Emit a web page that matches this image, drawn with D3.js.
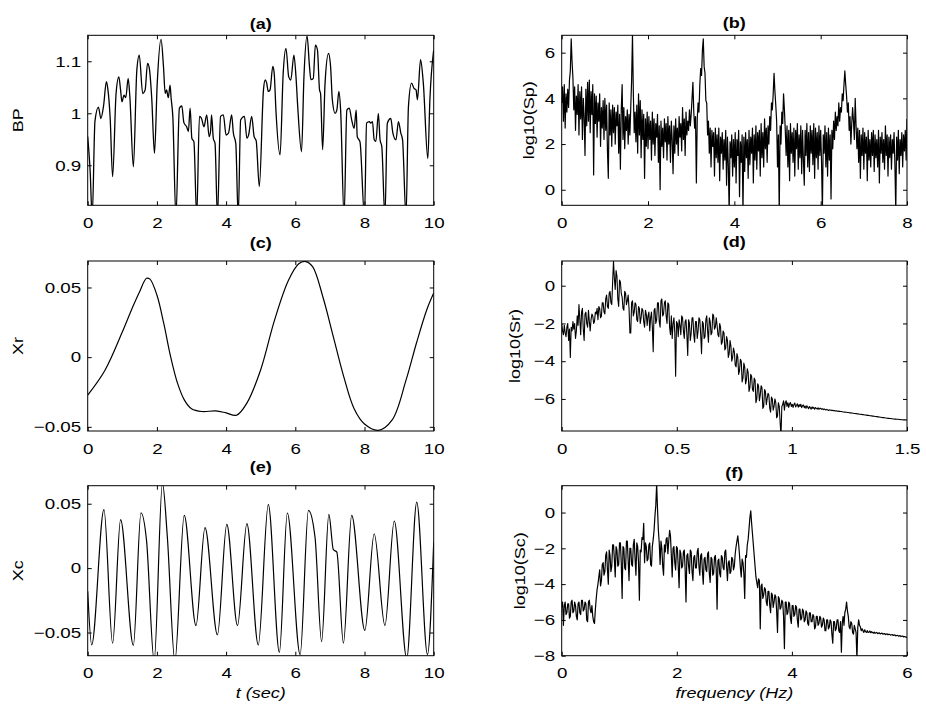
<!DOCTYPE html>
<html>
<head>
<meta charset="utf-8">
<script src="https://cdn.jsdelivr.net/npm/d3@7"></script>
<style>
    body { margin: 0; background: #fff; }
    svg { display: block; }
</style>
</head>
<body>
<div id="chart"></div>
<script>
// ---- values ----

// (a) blood pressure trace
const bpTime = [0, 0.07, 0.13, 0.21, 0.31, 0.38, 0.46, 0.54, 0.58, 0.65, 0.72, 0.82, 0.9, 0.95, 0.99, 1.05, 1.1, 1.17, 1.22, 1.32,
    1.42, 1.49, 1.59, 1.66, 1.73, 1.78, 1.85, 1.93, 2.01, 2.12, 2.19, 2.24, 2.28, 2.33, 2.38, 2.41, 2.46, 2.55, 2.65, 2.72,
    2.78, 2.86, 2.91, 2.96, 3.01, 3.07, 3.15, 3.23, 3.29, 3.36, 3.44, 3.51, 3.55, 3.58, 3.63, 3.68, 3.75, 3.84, 3.92, 4.0,
    4.07, 4.16, 4.21, 4.28, 4.35, 4.42, 4.53, 4.6, 4.65, 4.74, 4.81, 4.87, 4.96, 5.08, 5.13, 5.17, 5.22, 5.27, 5.35, 5.39,
    5.44, 5.56, 5.65, 5.73, 5.81, 5.87, 5.96, 6.02, 6.07, 6.18, 6.25, 6.34, 6.41, 6.45, 6.52, 6.58, 6.64, 6.7, 6.73, 6.79,
    6.86, 6.96, 7.02, 7.07, 7.15, 7.2, 7.26, 7.31, 7.41, 7.49, 7.56, 7.63, 7.7, 7.76, 7.79, 7.87, 8.0, 8.06, 8.14, 8.18,
    8.23, 8.28, 8.33, 8.4, 8.45, 8.5, 8.59, 8.66, 8.76, 8.82, 8.91, 8.98, 9.05, 9.1, 9.2, 9.27, 9.36, 9.43, 9.49, 9.53,
    9.62, 9.7, 9.83, 9.89, 10];
const bpValue = [0.955, 0.89, 0.8, 0.985, 1.012, 0.99, 1.015, 1.061, 1.048, 0.99, 0.878, 1.038, 1.07, 1.045, 1.022, 1.035, 1.03, 1.067, 1.03, 0.897,
    1.083, 1.112, 1.038, 1.045, 1.096, 1.087, 1.03, 0.923, 1.058, 1.142, 1.09, 1.038, 1.045, 1.03, 1.054, 1.03, 0.994, 0.8, 1.01, 1.014,
    0.982, 0.974, 0.965, 1.01, 0.952, 0.945, 0.8, 0.994, 0.99, 0.974, 0.997, 0.955, 0.965, 0.997, 0.952, 0.942, 0.8, 0.994, 0.997, 0.958,
    0.962, 0.997, 0.962, 0.942, 0.8, 0.987, 0.994, 0.952, 0.958, 0.994, 0.955, 0.947, 0.859, 1.045, 1.064, 1.059, 1.042, 1.045, 1.09, 1.077,
    1.006, 0.92, 1.077, 1.125, 1.07, 1.064, 1.112, 1.07, 1.013, 0.926, 1.07, 1.149, 1.09, 1.065, 1.067, 1.131, 1.122, 1.045, 1.038, 0.93,
    1.058, 1.115, 1.09, 1.026, 1.0, 1.006, 1.042, 1.006, 0.8, 1.006, 1.01, 0.987, 0.971, 1.006, 0.955, 0.945, 0.8, 0.981, 0.984, 0.981,
    0.984, 0.949, 0.946, 1.0, 0.949, 0.936, 0.8, 0.981, 0.99, 0.962, 0.949, 0.984, 0.962, 0.949, 0.8, 1.013, 1.058, 1.048, 1.045, 1.026,
    1.103, 1.058, 0.913, 1.026, 1.122];

// (c) respiratory component
const xrTime = [0, 0.5, 1.0, 1.3, 1.5, 1.7, 1.8, 2.0, 2.2, 2.4, 2.6, 2.8, 3.0, 3.3, 3.7, 4.0, 4.3, 4.6, 5.0, 5.4,
    5.8, 6.1, 6.3, 6.5, 6.8, 7.1, 7.4, 7.7, 8.0, 8.4, 8.8, 9.2, 9.5, 9.8, 10];
const xrValue = [-0.0273, -0.0094, 0.018, 0.036, 0.047, 0.0566, 0.056, 0.0446, 0.024, 0.0, -0.019, -0.031, -0.037, -0.039, -0.0386, -0.040, -0.0417, -0.033, -0.009, 0.0266,
    0.055, 0.067, 0.0686, 0.065, 0.043, 0.0146, -0.014, -0.037, -0.048, -0.0525, -0.045, -0.0165, 0.01, 0.034, 0.046];

// (e) cardiac component
const xcTime = [0, 0.115, 0.47, 0.72, 0.95, 1.32, 1.54, 1.7, 1.92, 2.16, 2.3, 2.52, 2.79, 3.13, 3.39, 3.75, 4.02, 4.33, 4.6, 4.93,
    5.22, 5.54, 5.77, 6.14, 6.38, 6.57, 6.76, 6.97, 7.1, 7.2, 7.39, 7.63, 8.01, 8.28, 8.59, 8.86, 9.22, 9.51, 9.82, 10];
const xcValue = [-0.018, -0.0596, 0.0454, -0.0583, 0.0376, -0.060, 0.043, 0.0215, -0.072, 0.066, 0.025, -0.072, 0.041, -0.0446, 0.0314, -0.0518, 0.034, -0.0446, 0.0345, -0.0596,
    0.0493, -0.0653, 0.0428, -0.0671, 0.0449, 0.024, -0.057, 0.0418, 0.0143, 0.0125, -0.0583, 0.041, -0.0484, 0.0267, -0.0446, 0.0366, -0.070, 0.0513, -0.0671, 0.02];

// (b) log10 spectrum of BP, 0..8 Hz, evenly spaced bins (20 per row = 0.4 Hz)
const spFreqMax = 8;
const spLog = [
    3.8, 4.5, 3.0, 4.6, 2.7, 4.2, 3.4, 4.4, 3.6, 4.8, 5.2, 6.6, 5.6, 4.9, 3.5, 4.5, 2.6, 4.1, 3.3, 4.6,
    2.4, 4.3, 3.1, 4.5, 2.2, 4.0, 3.2, 1.5, 4.4, 2.8, 4.7, 3.0, 4.8, 2.5, 4.3, 3.3, 4.6, 0.65, 4.2, 2.9,
    4.1, 2.3, 3.8, 3.0, 4.2, 1.9, 3.6, 2.7, 3.9, 2.2, 4.0, 2.6, 3.7, 1.7, 0.5, 3.8, 2.4, 3.5, 1.9, 3.7,
    2.5, 3.6, 2.0, 3.4, 2.8, 3.7, 1.6, 3.3, 0.9, 3.5, 4.6, 2.2, 3.6, 1.8, 3.2, 2.6, 3.5, 2.0, 3.3, 2.4,
    3.6, 4.8, 6.8, 4.2, 2.5, 3.4, 2.1, 3.7, 1.6, 4.2, 2.4, 3.9, 1.4, 3.5, 2.2, 3.3, 0.5, 3.1, 1.9, 3.4,
    1.8, 3.2, 2.2, 3.0, 1.3, 3.4, 2.0, 3.1, 1.5, 2.9, 2.3, 3.3, 1.2, 2.8, 0.0, 3.0, 1.9, 2.7, 1.4, 3.1,
    2.1, 2.9, 1.3, 3.2, 2.0, 2.8, 1.2, 3.0, 2.2, 0.7, 2.8, 1.6, 3.1, 2.0, 2.7, 1.5, 3.2, 2.3, 2.9, 1.7,
    3.6, 2.2, 3.1, 1.5, 3.4, 2.4, 3.0, 2.6, 3.5, 2.8, 3.3, 4.0, 4.7, 3.4, 2.7, 3.2, 0.3, 3.1, 3.8, 3.4,
    4.6, 5.3, 5.0, 6.1, 6.6, 5.4, 5.1, 3.9, 3.8, 2.4, 3.0, 1.6, 2.7, 1.0, 2.6, 1.9, 2.5, 0.6, 2.7, 1.4,
    2.4, 1.2, 2.7, 0.4, 2.3, 1.6, 2.5, 0.9, 2.2, 1.3, 2.6, 0.2, 2.3, 1.1, -1.0, 2.1, 1.4, 2.4, 0.6, 2.2,
    1.0, 2.5, 0.3, 2.2, 1.5, 2.6, -0.3, 2.1, 1.2, 2.4, -1.0, 2.3, 0.8, 2.5, 1.4, 2.2, 0.5, 2.6, 1.1, 2.3,
    1.6, 2.7, 0.3, 2.4, 1.3, 2.8, 0.9, 2.5, 1.7, 2.6, 0.6, 2.9, 1.4, 2.5, 1.0, 3.1, 1.8, 2.7, 1.2, 2.8,
    2.0, 3.2, 2.6, 3.8, 3.5, 4.2, 5.1, 4.3, 3.7, 3.0, 1.0, 2.4, -1.0, 2.8, 2.0, 3.4, 2.9, 4.2, 3.5, 2.6,
    1.5, 2.8, 1.0, 2.6, 0.4, 2.9, 1.6, 2.5, 1.2, 2.7, 0.6, 2.6, 1.8, 2.9, 0.9, 2.4, 1.4, 2.8, 0.7, 2.6,
    1.3, 0.2, 2.6, 1.5, 2.9, 1.0, 2.5, 0.8, 2.8, 1.6, 2.6, 1.1, 2.9, 0.5, 2.7, 1.4, 2.5, 0.9, 2.8, 1.5,
    2.6, 1.2, -1.0, 2.4, 1.6, 2.8, 1.0, 2.5, 0.6, 2.7, 1.3, 2.4, -0.4, 2.6, 1.8, 3.0, 2.2, 3.4, 2.6, 3.2,
    2.8, 3.8, 3.0, 3.6, 3.4, 4.2, 3.9, 4.6, 5.2, 4.6, 4.1, 3.4, 3.8, 2.6, 3.2, 2.0, 2.9, 3.6, 3.0, 2.2,
    4.0, 2.8, 1.8, 2.7, 1.2, 2.6, 0.5, 2.4, 1.5, 2.7, 0.9, 2.5, 1.6, 2.3, 0.4, 2.6, 1.3, 2.2, 1.0, 2.5,
    1.5, 2.6, 0.8, 2.4, 1.4, 2.2, 1.0, 2.6, 0.3, 2.3, 1.6, 2.5, 1.2, 2.2, 0.9, 2.8, 1.5, 2.4, 0.6, 2.3,
    1.4, 2.4, 0.9, 2.2, 1.6, 2.5, 1.1, -1.0, 2.3, 1.3, 2.6, 0.7, 2.2, 1.5, 2.5, 1.0, 2.4, 1.7, 2.6, 1.3,
    3.1];

// (d) log10 spectrum of Xr, 0..1.5 Hz (20 per row = 0.075 Hz)
const srFreqMax = 1.5;
const srLog = [
    -2.0, -2.4, -2.6, -2.1, -2.5, -2.7, -2.2, -2.0, -2.9, -2.3, -3.8, -2.2, -2.4, -1.9, -2.3, -2.0, -2.8, -2.4, -1.6, -2.1,
    -1.0, -1.8, -2.6, -1.4, -1.2, -2.3, -2.9, -1.5, -1.4, -2.0, -2.2, -1.3, -1.9, -2.4, -1.8, -1.5, -1.6, -2.0, -1.9, -1.4,
    -1.5, -1.2, -1.8, -1.1, -1.2, -1.7, -1.6, -0.9, -0.9, -1.4, -1.5, -0.7, -0.5, -1.1, -1.2, -0.4, -0.3, -0.9, -1.0, 0.2,
    1.3, 0.4, -0.2, 0.8, 0.5, -0.7, -1.1, 0.3, 0.2, -0.4, -0.6, -1.2, -1.3, -0.3, -0.4, -1.0, -0.8, -0.5, -1.2, -2.5,
    -2.5, -0.9, -0.8, -1.6, -1.4, -0.9, -1.0, -1.8, -1.9, -1.1, -1.2, -2.0, -1.7, -1.2, -1.3, -1.9, -2.2, -1.3, -1.5, -2.1,
    -1.6, -1.4, -2.4, -1.7, -1.4, -2.2, -3.5, -1.3, -1.2, -2.0, -1.8, -0.9, -0.9, -1.9, -2.2, -0.8, -0.7, -1.6, -1.5, -0.9,
    -0.8, -1.6, -2.0, -0.9, -1.0, -2.2, -2.6, -1.6, -2.8, -2.0, -1.7, -2.5, -4.8, -1.9, -2.0, -2.7, -1.8, -2.1, -2.6, -1.6,
    -1.7, -2.4, -2.8, -1.9, -1.8, -2.6, -3.7, -1.8, -2.0, -2.9, -2.5, -1.7, -1.7, -2.6, -3.0, -1.9, -1.9, -2.8, -2.4, -1.7,
    -1.8, -2.6, -3.6, -1.9, -2.0, -2.8, -2.7, -1.8, -1.6, -2.4, -3.0, -1.7, -1.9, -2.6, -2.5, -1.5, -1.6, -2.3, -2.2, -1.7,
    -2.1, -2.6, -2.7, -2.0, -2.2, -3.1, -3.0, -2.4, -2.5, -3.4, -3.3, -2.7, -2.9, -3.8, -3.6, -2.9, -3.2, -4.0, -3.8, -3.3,
    -3.5, -4.2, -4.3, -3.6, -3.8, -4.7, -4.5, -3.9, -4.0, -5.1, -4.9, -4.1, -4.3, -5.2, -5.0, -4.4, -4.6, -5.6, -5.4, -4.7,
    -4.8, -5.5, -5.6, -4.9, -5.0, -6.2, -6.0, -5.2, -5.3, -6.1, -5.8, -5.3, -5.4, -6.5, -6.4, -5.5, -5.6, -6.3, -6.0, -5.7,
    -5.8, -6.5, -6.7, -5.9, -6.0, -6.6, -6.4, -6.0, -6.2, -7.0, -6.9, -6.2, -6.4, -7.2, -8.0, -6.4, -6.3, -6.1, -6.6, -6.2,
    -6.1, -6.4, -6.2, -6.45, -6.25, -6.2, -6.4, -6.28, -6.45, -6.3, -6.22, -6.42, -6.35, -6.26, -6.44, -6.3, -6.4, -6.28, -6.46, -6.36,
    -6.32, -6.46, -6.38, -6.5, -6.36, -6.44, -6.52, -6.4, -6.46, -6.54, -6.42, -6.5, -6.45, -6.55, -6.46, -6.5, -6.54, -6.47, -6.55, -6.5,
    -6.5, -6.55, -6.52, -6.57, -6.53, -6.56, -6.59, -6.55, -6.58, -6.61, -6.58, -6.6, -6.59, -6.62, -6.6, -6.63, -6.62, -6.64, -6.63, -6.65,
    -6.64, -6.66, -6.65, -6.67, -6.67, -6.68, -6.69, -6.69, -6.7, -6.71, -6.71, -6.72, -6.72, -6.73, -6.74, -6.74, -6.75, -6.76, -6.76, -6.77,
    -6.77, -6.78, -6.79, -6.79, -6.8, -6.81, -6.81, -6.82, -6.83, -6.83, -6.84, -6.85, -6.85, -6.86, -6.87, -6.87, -6.88, -6.89, -6.89, -6.9,
    -6.91, -6.91, -6.92, -6.93, -6.93, -6.94, -6.95, -6.95, -6.96, -6.97, -6.97, -6.98, -6.99, -6.99, -7.0, -7.01, -7.01, -7.02, -7.03, -7.03,
    -7.04, -7.04, -7.05, -7.05, -7.06, -7.06, -7.07, -7.07, -7.08, -7.08, -7.08, -7.09, -7.09, -7.1, -7.1, -7.1, -7.11, -7.11, -7.11, -7.12,
    -7.12];

// (f) log10 spectrum of Xc, 0..6 Hz (20 per row = 0.3 Hz)
const scFreqMax = 6;
const scLog = [
    -5.3, -5.0, -6.3, -5.2, -5.0, -5.7, -5.6, -5.1, -5.1, -5.9, -5.8, -5.0, -4.9, -5.6, -5.5, -5.0, -5.2, -5.8, -6.0, -5.1,
    -5.0, -5.6, -5.7, -4.9, -4.9, -5.5, -5.4, -5.0, -5.1, -6.0, -6.1, -5.0, -4.9, -5.4, -5.6, -5.2, -5.8, -6.1, -6.2, -5.4,
    -4.8, -4.3, -4.0, -3.6, -3.2, -4.1, -3.8, -2.9, -2.8, -3.5, -3.3, -2.4, -2.2, -3.2, -4.0, -2.1, -2.4, -3.3, -3.0, -1.8,
    -1.8, -2.6, -3.6, -1.9, -2.1, -3.0, -2.9, -1.7, -1.7, -2.8, -4.8, -1.9, -2.0, -3.1, -3.2, -1.6, -1.6, -2.7, -3.8, -2.0,
    -2.0, -2.9, -3.0, -1.8, -1.5, -2.6, -3.5, -1.7, -1.9, -2.8, -4.9, -2.1, -2.2, -1.4, -1.5, -0.6, -2.8, -1.7, -1.9, -2.7,
    -2.6, -1.8, -1.7, -2.9, -3.0, -1.9, -1.5, -1.0, -0.2, 0.4, 1.6, 0.2, -1.0, -1.7, -2.9, -1.6, -2.0, -3.0, -3.5, -1.8,
    -2.2, -1.5, -1.4, -2.3, -1.6, -1.0, -1.3, -2.4, -3.6, -2.0, -1.9, -2.8, -3.2, -1.9, -2.0, -3.0, -4.2, -2.1, -2.3, -3.1,
    -3.0, -2.2, -2.1, -3.2, -5.0, -2.4, -2.3, -3.0, -3.4, -2.1, -2.2, -3.3, -3.8, -2.5, -2.4, -3.1, -3.1, -2.2, -2.0, -3.0,
    -3.5, -2.4, -2.3, -3.3, -4.0, -2.6, -2.5, -3.2, -3.3, -2.3, -2.2, -3.4, -3.9, -2.5, -2.6, -3.5, -3.4, -2.5, -2.4, -3.2,
    -5.4, -2.7, -2.6, -3.4, -3.6, -2.4, -2.5, -3.1, -3.2, -2.2, -2.1, -3.0, -3.8, -2.8, -2.7, -3.4, -3.3, -2.5, -2.6, -3.2,
    -3.0, -2.3, -1.9, -1.6, -1.3, -1.8, -2.4, -3.1, -3.6, -2.6, -2.8, -3.4, -4.8, -2.4, -2.5, -1.8, -1.5, -0.9, -0.3, 0.1,
    -0.6, -1.2, -1.8, -2.4, -3.0, -3.6, -3.9, -4.2, -3.7, -3.8, -6.5, -4.1, -4.0, -4.8, -4.6, -4.2, -4.3, -5.0, -5.2, -4.4,
    -4.4, -5.2, -5.6, -4.5, -4.6, -5.3, -5.0, -4.6, -4.7, -5.5, -6.7, -4.7, -4.8, -5.4, -5.3, -4.9, -5.0, -5.8, -7.6, -5.0,
    -5.0, -5.7, -5.6, -5.0, -5.1, -5.9, -6.2, -5.2, -5.2, -5.8, -5.7, -5.2, -5.3, -6.0, -6.4, -5.4, -5.4, -6.0, -5.9, -5.4,
    -5.5, -6.1, -6.0, -5.5, -5.6, -6.2, -6.3, -5.6, -5.6, -6.1, -6.1, -5.7, -5.8, -6.5, -6.4, -5.8, -5.8, -6.3, -6.2, -5.8,
    -5.9, -6.4, -6.3, -5.9, -6.0, -6.6, -6.6, -6.0, -6.0, -6.5, -6.4, -6.0, -6.1, -6.8, -7.3, -6.1, -6.1, -6.6, -6.5, -6.0,
    -6.0, -6.6, -6.7, -6.1, -7.8, -6.2, -5.8, -6.3, -5.6, -5.4, -5.0, -5.5, -5.8, -6.4, -6.5, -6.1, -6.2, -6.7, -6.8, -6.3,
    -6.5, -6.7, -8.2, -6.4, -6.0, -6.3, -6.4, -6.6, -6.5, -6.6, -6.7, -6.55, -6.65, -6.7, -6.6, -6.7, -6.68, -6.62, -6.72, -6.66,
    -6.7, -6.74, -6.68, -6.75, -6.72, -6.7, -6.77, -6.74, -6.72, -6.78, -6.76, -6.74, -6.8, -6.77, -6.76, -6.82, -6.79, -6.78, -6.83, -6.8,
    -6.81, -6.85, -6.83, -6.82, -6.87, -6.85, -6.84, -6.89, -6.87, -6.86, -6.91, -6.89, -6.88, -6.93, -6.91, -6.9, -6.95, -6.93, -6.94, -6.97,
    -6.98];

// tick values
const timeTicks = [0, 2, 4, 6, 8, 10];
const bpTicks = [0.9, 1, 1.1];
const xTicksSmall = [-0.05, 0, 0.05];
const spFreqTicks = [0, 2, 4, 6, 8];
const spTicks = [0, 2, 4, 6];
const srFreqTicks = [0, 0.5, 1, 1.5];
const srTicks = [-6, -4, -2, 0];
const scFreqTicks = [0, 2, 4, 6];
const scTicks = [-8, -6, -4, -2, 0];

// ---- layout ----
const width = 926;
const height = 708;
const colX = [87.7, 561.7];
const colW = [346, 345.3];
const rowY = [35.3, 261, 485.7];
const rowH = 170;
const tickLen = 4;
const fontFamily = "'Liberation Sans', Arial, Helvetica, sans-serif";
const fontSize = 15;
const stretch = 1.25;   // the original font is set noticeably wide

const binFreqs = (vals, fMax) => vals.map((_, i) => i * fMax / (vals.length - 1));
const fmt = v => String(v).replace("-", "\u2212");

const panels = [
    { id: "a", col: 0, row: 0, title: "(a)", titleGap: 6.8, ylabel: "BP", ylabelGap: 64.7,
      xs: bpTime, ys: bpValue, xDomain: [0, 10], yDomain: [0.823, 1.15],
      xTicks: timeTicks, yTicks: bpTicks, curve: d3.curveMonotoneX, lw: 1.3 },
    { id: "b", col: 1, row: 0, title: "(b)", titleGap: 7.7, ylabel: "log10(Sp)", ylabelGap: 27.9,
      xs: binFreqs(spLog, spFreqMax), ys: spLog, xDomain: [0, 8], yDomain: [-0.68, 6.76],
      xTicks: spFreqTicks, yTicks: spTicks, curve: d3.curveLinear, lw: 1.2 },
    { id: "c", col: 0, row: 1, title: "(c)", titleGap: 13, ylabel: "Xr", ylabelGap: 64.4,
      xs: xrTime, ys: xrValue, xDomain: [0, 10], yDomain: [-0.053, 0.069],
      xTicks: timeTicks, yTicks: xTicksSmall, curve: d3.curveCatmullRom.alpha(0.5), lw: 1.2 },
    { id: "d", col: 1, row: 1, title: "(d)", titleGap: 14, ylabel: "log10(Sr)", ylabelGap: 41.8,
      xs: binFreqs(srLog, srFreqMax), ys: srLog, xDomain: [0, 1.5], yDomain: [-7.7, 1.31],
      xTicks: srFreqTicks, yTicks: srTicks, curve: d3.curveLinear, lw: 1.1 },
    { id: "e", col: 0, row: 2, title: "(e)", titleGap: 13.7, ylabel: "Xc", ylabelGap: 64.4, xlabel: "t (sec)",
      xs: xcTime, ys: xcValue, xDomain: [0, 10], yDomain: [-0.068, 0.064],
      xTicks: timeTicks, yTicks: xTicksSmall, curve: d3.curveMonotoneX, lw: 1.2 },
    { id: "f", col: 1, row: 2, title: "(f)", titleGap: 8, ylabel: "log10(Sc)", ylabelGap: 36.9, xlabel: "frequency (Hz)",
      xs: binFreqs(scLog, scFreqMax), ys: scLog, xDomain: [0, 6], yDomain: [-8, 1.5],
      xTicks: scFreqTicks, yTicks: scTicks, curve: d3.curveLinear, lw: 1.2 }
];

const svg = d3.select("#chart")
    .append("svg")
    .attr("width", width)
    .attr("height", height)
    .attr("font-family", fontFamily);

svg.append("rect")
    .attr("width", width)
    .attr("height", height)
    .attr("fill", "#fff");

const defs = svg.append("defs");

function styleAxis(g) {
    g.attr("font-family", fontFamily)
        .attr("font-size", fontSize)
        .attr("color", "#000");
    g.select(".domain").remove();
    g.selectAll(".tick line").attr("stroke-width", 1);
}

function drawPanel(p) {
    const left = colX[p.col];
    const top = rowY[p.row];
    const w = colW[p.col];
    const h = rowH;

    const x = d3.scaleLinear().domain(p.xDomain).range([0, w]);
    const y = d3.scaleLinear().domain(p.yDomain).range([h, 0]);

    const g = svg.append("g").attr("transform", `translate(${left},${top})`);

    defs.append("clipPath")
        .attr("id", "clip-" + p.id)
        .append("rect")
        .attr("width", w)
        .attr("height", h);

    // data line
    const line = d3.line()
        .x(d => x(d[0]))
        .y(d => y(d[1]))
        .curve(p.curve);

    g.append("path")
        .datum(d3.zip(p.xs, p.ys))
        .attr("clip-path", `url(#clip-${p.id})`)
        .attr("fill", "none")
        .attr("stroke", "#000")
        .attr("stroke-width", p.lw)
        .attr("stroke-linejoin", "round")
        .attr("d", line);

    // bottom axis with labels, ticks pointing inward
    g.append("g")
        .attr("transform", `translate(0,${h})`)
        .call(d3.axisBottom(x).tickValues(p.xTicks).tickFormat(fmt)
            .tickSizeInner(-tickLen).tickSizeOuter(0).tickPadding(12))
        .call(styleAxis)
        .call(a => a.selectAll("text").attr("transform", `scale(${stretch},1)`));

    // left axis with labels
    g.append("g")
        .call(d3.axisLeft(y).tickValues(p.yTicks).tickFormat(fmt)
            .tickSizeInner(-tickLen).tickSizeOuter(0).tickPadding(6.5 / stretch))
        .call(styleAxis)
        .call(a => a.selectAll("text").attr("transform", `scale(${stretch},1)`));

    // mirrored ticks on top and right
    g.append("g")
        .call(d3.axisTop(x).tickValues(p.xTicks).tickFormat("")
            .tickSizeInner(-tickLen).tickSizeOuter(0))
        .call(styleAxis);

    g.append("g")
        .attr("transform", `translate(${w},0)`)
        .call(d3.axisRight(y).tickValues(p.yTicks).tickFormat("")
            .tickSizeInner(-tickLen).tickSizeOuter(0))
        .call(styleAxis);

    // box
    g.append("rect")
        .attr("width", w)
        .attr("height", h)
        .attr("fill", "none")
        .attr("stroke", "#000")
        .attr("stroke-width", 1);

    // title
    g.append("text")
        .attr("transform", `translate(${w / 2},${-p.titleGap}) scale(1.2,1)`)
        .attr("text-anchor", "middle")
        .attr("font-size", fontSize)
        .attr("font-weight", "bold")
        .text(p.title);

    // y label
    g.append("text")
        .attr("transform", `translate(${-p.ylabelGap},${h / 2}) rotate(-90) scale(1.2,1)`)
        .attr("text-anchor", "middle")
        .attr("font-size", fontSize)
        .text(p.ylabel);

    // x label
    if (p.xlabel) {
        g.append("text")
            .attr("transform", `translate(${w / 2},${h + 42.5}) scale(1.2,1)`)
            .attr("text-anchor", "middle")
            .attr("font-size", fontSize)
            .attr("font-style", "italic")
            .text(p.xlabel);
    }
}

panels.forEach(drawPanel);
</script>
</body>
</html>
